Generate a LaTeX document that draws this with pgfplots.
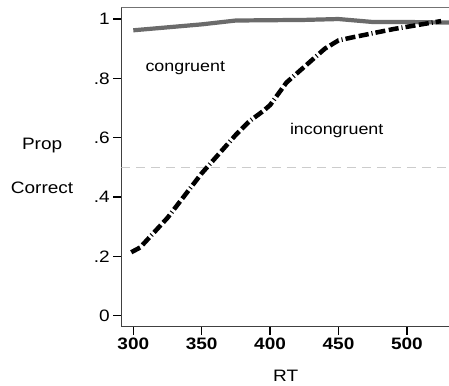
\documentclass[border=0pt]{standalone}
\usepackage{pgfplots}
\pgfplotsset{compat=1.18}
\usepackage{fontspec}
\setmainfont{Liberation Sans}[FakeStretch=1.15]
\begin{document}
\begin{tikzpicture}
\begin{axis}[
  at={(0,0)}, anchor=south west,
  scale only axis, width=327pt, height=319pt,
  xmin=291.2, xmax=530.8, ymin=-0.037, ymax=1.0405,
  axis x line*=bottom, axis y line*=left,
  axis line style={draw=black!75, line width=1.2pt, -},
  xtick={300,350,400,450,500},
  xticklabels={\textbf{300},\textbf{350},\textbf{400},\textbf{450},\textbf{500}},
  ytick={0,0.2,0.4,0.6,0.8,1},
  yticklabels={0,.2,.4,.6,.8,1},
  tick align=outside, major tick length=8pt,
  tick style={black, line width=1.3pt},
  ticklabel style={font=\fontsize{16.5}{18}\selectfont},
  clip=true,
]
\draw[black!55, line width=1pt] (rel axis cs:0,1) -- (rel axis cs:1,1);
\addplot[black!20, line width=1.5pt, dash pattern=on 9pt off 6pt] coordinates {(291.2,0.5) (530.8,0.5)};
\addplot[black!58, line width=4.2pt, line join=round] coordinates {
(300,0.962) (325,0.972) (350,0.982) (375,0.995) (400,0.996) (425,0.997) (450,1.0) (475,0.99) (500,0.99) (531,0.988)};
\addplot[black, line width=4.5pt, line join=round, dash pattern=on 10pt off 3.5pt on 10pt off 3pt on 1pt off 3pt] coordinates {
(298.5,0.214) (305,0.23) (325,0.33) (350,0.48) (375,0.61) (385,0.656) (395,0.69) (400,0.71) (412,0.786) (427,0.847) (440,0.9) (450,0.928) (461,0.939) (490,0.966) (525,0.993)};
\node[font=\fontsize{15.5}{18}\selectfont] at (axis cs:338,0.834) {congruent};
\node[font=\fontsize{15.5}{18}\selectfont] at (axis cs:448.7,0.625) {incongruent};
\end{axis}
\node[font=\fontsize{16.5}{19}\selectfont] at (-79pt,181pt) {Prop};
\node[font=\fontsize{16.5}{19}\selectfont] at (-79pt,139pt) {Correct};
\node[font=\fontsize{16.5}{19}\selectfont] at (164pt,-49pt) {RT};
\pgfresetboundingbox
\path (-121pt,-59pt) rectangle (327pt,326pt);
\end{tikzpicture}
\end{document}
